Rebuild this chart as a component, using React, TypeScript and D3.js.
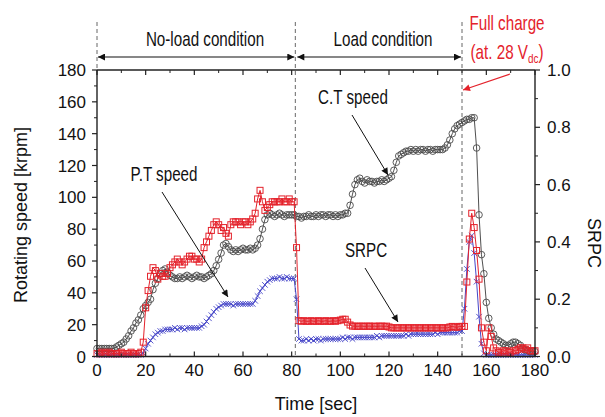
import React from 'react';
import * as d3 from 'd3';

// sample times (1-s sampling)
const timeSec: number[] = d3.range(0, 181);

// C.T speed [krpm] (black circles, left axis)
const ctSpeed: number[] = [
  5, 5, 5, 5, 5, 5, 5, 5, 6, 7,
  8, 9, 11, 13, 16, 18, 21, 23, 26, 30,
  32, 34, 36, 42, 46, 49, 52, 54, 55, 53,
  51, 50, 49, 49, 50, 49, 50, 51, 50, 49,
  50, 51, 50, 50, 49, 50, 51, 52, 54, 57,
  61, 65, 70, 71, 69, 67, 66, 67, 66, 67,
  68, 67, 67, 68, 67, 68, 70, 74, 80, 86,
  89, 90, 89, 88, 89, 90, 89, 88, 89, 89,
  89, 89, 88, 88, 87, 88, 88, 89, 88, 88,
  89, 88, 89, 89, 88, 89, 89, 88, 89, 88,
  89, 89, 90, 90, 95, 102, 108, 111, 112, 110,
  109, 111, 110, 110, 109, 110, 110, 111, 110, 111,
  112, 113, 117, 122, 126, 127, 128, 129, 129, 130,
  129, 130, 129, 130, 130, 129, 130, 130, 129, 130,
  130, 130, 130, 131, 133, 136, 140, 143, 145, 146,
  147, 148, 149, 149, 150, 150, 131, 89, 64, 52,
  34, 24, 18, 14, 11, 10, 9, 8, 7, 7,
  8, 9, 9, 8, 7, 5, 4, 4, 3, 3,
  3,
];

// P.T speed [krpm] (blue crosses, left axis)
const ptSpeed: number[] = [
  1, 1, 1, 1, 1, 1, 1, 1, 1, 1,
  1, 1, 1, 1, 1, 1, 1, 1, 1, 2,
  5, 8, 10, 12, 14, 15, 16, 16, 17, 17,
  17, 17, 18, 17, 18, 18, 17, 18, 18, 18,
  18, 18, 18, 19, 20, 22, 24, 26, 28, 30,
  31, 32, 33, 33, 33, 33, 32, 33, 33, 33,
  33, 33, 33, 33, 33, 35, 38, 41, 43, 45,
  47, 48, 49, 49, 49, 50, 49, 49, 50, 49,
  49, 49, 36, 11, 10, 10, 11, 10, 11, 10,
  11, 11, 10, 11, 11, 11, 11, 11, 11, 11,
  11, 12, 11, 12, 12, 11, 12, 12, 12, 12,
  12, 12, 12, 12, 12, 13, 12, 13, 13, 13,
  13, 13, 13, 13, 13, 13, 13, 14, 13, 14,
  14, 14, 14, 14, 14, 14, 14, 14, 14, 15,
  14, 15, 15, 15, 15, 15, 15, 15, 15, 16,
  16, 30, 55, 72, 76, 65, 47, 25, 8, 2,
  1, 1, 1, 1, 1, 1, 1, 1, 1, 1,
  1, 1, 1, 1, 1, 1, 1, 1, 1, 1,
  1,
];

// SRPC [-] (red squares, right axis)
const srpc: number[] = [
  0.01, 0.01, 0.015, 0.01, 0.01, 0.015, 0.01, 0.01, 0.01, 0.01,
  0.015, 0.01, 0.01, 0.01, 0.015, 0.01, 0.01, 0.01, 0.015, 0.05,
  0.17, 0.23, 0.28, 0.31, 0.30, 0.27, 0.29, 0.28, 0.28, 0.29,
  0.31, 0.32, 0.33, 0.34, 0.33, 0.32, 0.33, 0.34, 0.35, 0.35,
  0.34, 0.34, 0.33, 0.34, 0.38, 0.40, 0.42, 0.44, 0.46, 0.47,
  0.46, 0.44, 0.45, 0.43, 0.42, 0.46, 0.47, 0.47, 0.47, 0.46,
  0.47, 0.47, 0.46, 0.47, 0.48, 0.50, 0.55, 0.58, 0.54, 0.51,
  0.52, 0.53, 0.54, 0.54, 0.54, 0.54, 0.55, 0.54, 0.54, 0.55,
  0.54, 0.54, 0.38, 0.125, 0.123, 0.125, 0.123, 0.123, 0.125, 0.123,
  0.123, 0.125, 0.123, 0.123, 0.125, 0.123, 0.123, 0.125, 0.123, 0.125,
  0.127, 0.13, 0.13, 0.12, 0.11, 0.106, 0.106, 0.105, 0.106, 0.106,
  0.105, 0.106, 0.106, 0.105, 0.106, 0.105, 0.106, 0.106, 0.105, 0.106,
  0.103, 0.1, 0.1, 0.1, 0.1, 0.1, 0.1, 0.1, 0.1, 0.1,
  0.1, 0.1, 0.1, 0.1, 0.1, 0.1, 0.1, 0.1, 0.1, 0.1,
  0.1, 0.1, 0.1, 0.1, 0.1, 0.103, 0.105, 0.103, 0.102, 0.105,
  0.105, 0.105, 0.26, 0.41, 0.5, 0.45, 0.37, 0.27, 0.1, 0.05,
  0.02, 0.1, 0.07, 0.03, 0.02, 0.015, 0.015, 0.02, 0.02, 0.015,
  0.015, 0.02, 0.02, 0.025, 0.03, 0.03, 0.025, 0.03, 0.02, 0.02,
  0.02,
];

const xTicks = [0, 20, 40, 60, 80, 100, 120, 140, 160, 180];
const xMinor = [10, 30, 50, 70, 90, 110, 130, 150, 170];
const yLeftTicks = [0, 20, 40, 60, 80, 100, 120, 140, 160, 180];
const yLeftMinor = [10, 30, 50, 70, 90, 110, 130, 150, 170];
const yRightTicks = [0, 0.2, 0.4, 0.6, 0.8, 1.0];
const yRightMinor = [0.1, 0.3, 0.5, 0.7, 0.9];
const phaseTimes = [0, 81.5, 150];

const BLACK = '#222';
const RED = '#e4222b';
const BLUE = '#4646c8';
const SANS = "'Liberation Sans', Arial, Helvetica, sans-serif";

export default function App() {
  const W = 605, H = 417;
  const x = d3.scaleLinear().domain([0, 180]).range([97, 535]);
  const yL = d3.scaleLinear().domain([0, 180]).range([356.5, 70]);
  const yR = d3.scaleLinear().domain([0, 1]).range([356.5, 70]);
  const [x0, x1] = x.range();
  const yBot = yL(0), yTop = yL(180);

  const lineCT = d3.line<number>().x((_, i) => x(timeSec[i])).y(d => yL(d));
  const linePT = d3.line<number>().x((_, i) => x(timeSec[i])).y(d => yL(d));
  const lineSR = d3.line<number>().x((_, i) => x(timeSec[i])).y(d => yR(d));
  const crossPath = d3.symbol().type(d3.symbolX).size(22)() as string;

  const condensed = (cx: number, cy: number, content: React.ReactNode, color = '#111', sx = 0.76) => (
    <g transform={`translate(${cx},${cy}) scale(${sx},1)`}>
      <text x={0} y={0} textAnchor="middle" fontFamily={SANS} fontSize={20} fill={color}>{content}</text>
    </g>
  );

  return (
    <svg width={W} height={H} style={{ position: 'absolute', left: 0, top: 0, background: '#fff' }}>
      <defs>
        <marker id="arrB" viewBox="0 0 10 10" refX={10} refY={5} markerWidth={8} markerHeight={7}
          markerUnits="userSpaceOnUse" orient="auto-start-reverse">
          <path d="M0,0 L10,5 L0,10 z" fill="#111" />
        </marker>
        <marker id="arrR" viewBox="0 0 10 10" refX={10} refY={5} markerWidth={9} markerHeight={7}
          markerUnits="userSpaceOnUse" orient="auto">
          <path d="M0,0 L10,5 L0,10 z" fill={RED} />
        </marker>
      </defs>
      <rect x={0} y={0} width={W} height={H} fill="#fff" />

      {/* phase dashed lines */}
      {phaseTimes.map(t => (
        <line key={t} x1={x(t)} x2={x(t)} y1={22} y2={t === 0 ? yTop : yBot}
          stroke="#555" strokeWidth={0.9} strokeDasharray="4,3" />
      ))}
      {/* phase arrows */}
      <line x1={x(0) + 1} x2={x(81.5) - 1} y1={57} y2={57} stroke="#111" strokeWidth={1.2}
        markerStart="url(#arrB)" markerEnd="url(#arrB)" />
      <line x1={x(81.5) + 2} x2={x(150) - 1} y1={57} y2={57} stroke="#111" strokeWidth={1.2}
        markerStart="url(#arrB)" markerEnd="url(#arrB)" />
      {condensed(205, 46, 'No-load condition')}
      {condensed(383, 46, 'Load condition')}
      {condensed(507, 30, 'Full charge', RED)}
      {condensed(507, 59, <>
        <tspan>(at. 28 V</tspan>
        <tspan fontSize={13} dy={4}>dc</tspan>
        <tspan dy={-4}>)</tspan>
      </>, RED)}
      <line x1={510} y1={74} x2={463} y2={90} stroke={RED} strokeWidth={1.2} markerEnd="url(#arrR)" />

      {/* series: P.T speed (blue) */}
      <path d={linePT(ptSpeed) as string} fill="none" stroke={BLUE} strokeWidth={1} />
      {ptSpeed.map((v, i) => (
        <path key={'p' + i} d={crossPath} transform={`translate(${x(timeSec[i])},${yL(v)})`}
          fill="none" stroke={BLUE} strokeWidth={0.9} />
      ))}
      {/* C.T speed (black circles) */}
      <path d={lineCT(ctSpeed) as string} fill="none" stroke={BLACK} strokeWidth={0.8} />
      {ctSpeed.map((v, i) => (
        <circle key={'c' + i} cx={x(timeSec[i])} cy={yL(v)} r={3.3} fill="none" stroke="#4a4a4a" strokeWidth={0.9} />
      ))}
      {/* SRPC (red squares) */}
      <path d={lineSR(srpc) as string} fill="none" stroke={RED} strokeWidth={1} />
      {srpc.map((v, i) => (
        <rect key={'s' + i} x={x(timeSec[i]) - 3} y={yR(v) - 3} width={6} height={6}
          fill="none" stroke={RED} strokeWidth={1} />
      ))}

      {/* frame */}
      <line x1={x0} x2={x1} y1={yBot} y2={yBot} stroke={BLACK} strokeWidth={1.4} />
      <line x1={x0} x2={x1} y1={yTop} y2={yTop} stroke={BLACK} strokeWidth={1.4} />
      <line x1={x0} x2={x0} y1={yTop} y2={yBot} stroke={BLACK} strokeWidth={1.4} />
      <line x1={x1} x2={x1} y1={yTop} y2={yBot} stroke={BLACK} strokeWidth={1.4} />

      {/* x ticks */}
      {xTicks.map(t => (
        <g key={'xt' + t}>
          <line x1={x(t)} x2={x(t)} y1={yBot} y2={yBot - 5} stroke={BLACK} strokeWidth={1.2} />
          <line x1={x(t)} x2={x(t)} y1={yTop} y2={yTop + 5} stroke={BLACK} strokeWidth={1.2} />
          <text x={x(t)} y={376} textAnchor="middle" fontFamily={SANS} fontSize={17} fill="#111">{t}</text>
        </g>
      ))}
      {xMinor.map(t => (
        <g key={'xm' + t}>
          <line x1={x(t)} x2={x(t)} y1={yBot} y2={yBot - 3} stroke={BLACK} strokeWidth={1} />
          <line x1={x(t)} x2={x(t)} y1={yTop} y2={yTop + 3} stroke={BLACK} strokeWidth={1} />
        </g>
      ))}
      {/* left ticks */}
      {yLeftTicks.map(v => (
        <g key={'yl' + v}>
          <line x1={x0} x2={x0 - 5} y1={yL(v)} y2={yL(v)} stroke={BLACK} strokeWidth={1.2} />
          <text x={86} y={yL(v) + 6} textAnchor="end" fontFamily={SANS} fontSize={17} fill="#111">{v}</text>
        </g>
      ))}
      {yLeftMinor.map(v => (
        <line key={'ylm' + v} x1={x0} x2={x0 - 3} y1={yL(v)} y2={yL(v)} stroke={BLACK} strokeWidth={1} />
      ))}
      {/* right ticks */}
      {yRightTicks.map(v => (
        <g key={'yr' + v}>
          <line x1={x1} x2={x1 + 5} y1={yR(v)} y2={yR(v)} stroke={BLACK} strokeWidth={1.2} />
          <text x={547} y={yR(v) + 6} textAnchor="start" fontFamily={SANS} fontSize={17} fill="#111">{v.toFixed(1)}</text>
        </g>
      ))}
      {yRightMinor.map(v => (
        <line key={'yrm' + v} x1={x1} x2={x1 + 3} y1={yR(v)} y2={yR(v)} stroke={BLACK} strokeWidth={1} />
      ))}

      {/* axis titles */}
      <text x={316} y={410} textAnchor="middle" fontFamily={SANS} fontSize={18} fill="#111">Time [sec]</text>
      <text transform="translate(27,215) rotate(-90)" textAnchor="middle" fontFamily={SANS} fontSize={18} fill="#111">Rotating speed [krpm]</text>
      <text transform="translate(588,243) rotate(90)" textAnchor="middle" fontFamily={SANS} fontSize={18} fill="#111">SRPC</text>

      {/* annotations */}
      {condensed(164, 181, 'P.T speed')}
      <line x1={162} y1={192} x2={228} y2={297} stroke="#111" strokeWidth={1} markerEnd="url(#arrB)" />
      {condensed(353, 104, 'C.T speed')}
      <line x1={352} y1={115} x2={388} y2={175} stroke="#111" strokeWidth={1} markerEnd="url(#arrB)" />
      {condensed(366, 257, 'SRPC')}
      <line x1={365} y1={268} x2={398} y2={322} stroke="#111" strokeWidth={1} markerEnd="url(#arrB)" />
    </svg>
  );
}
